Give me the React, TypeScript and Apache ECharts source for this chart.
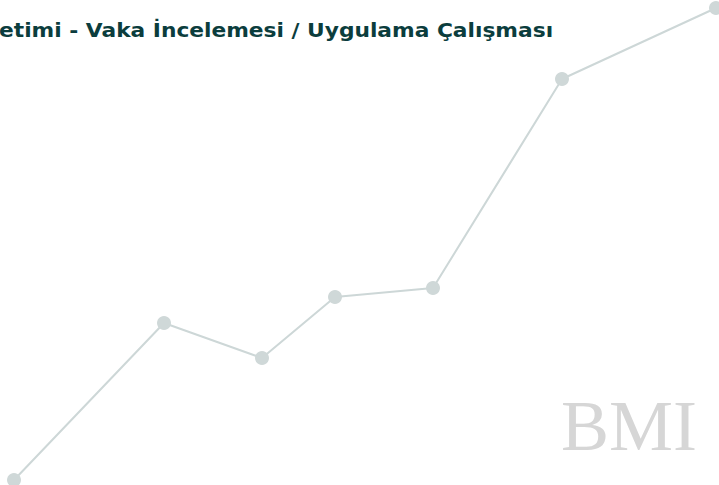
import React, { useEffect, useRef } from "react";
import * as echarts from "echarts";

const titleText = "etimi - Vaka İncelemesi / Uygulama Çalışması";
const watermark = "BMI";
const xValues = [0, 150, 248, 321, 419, 548, 702];
const yValues = [0, 157, 122, 183, 192, 401, 472];

export default function App() {
  const ref = useRef<HTMLDivElement>(null);
  useEffect(() => {
    if (!ref.current) return;
    const chart = echarts.init(ref.current, null, { renderer: "svg" });
    chart.setOption({
      animation: false,
      backgroundColor: "#ffffff",
      grid: { left: 14, right: 3, top: 8, bottom: 5 },
      xAxis: { type: "value", min: 0, max: 702, show: false },
      yAxis: { type: "value", min: 0, max: 472, show: false },
      graphic: [
        {
          type: "text",
          x: -1,
          y: 21,
          scaleX: 1.145,
          z: 10,
          style: {
            text: titleText,
            x: 0,
            y: 0,
            verticalAlign: "top",
            fontSize: 19,
            fontWeight: "bold",
            fontFamily: "'DejaVu Sans', sans-serif",
            fill: "#0b3d3d",
          },
        },
        {
          type: "text",
          left: 561,
          top: 390,
          z: 0,
          style: {
            text: watermark,
            fontSize: 72,
            fontFamily: "'Liberation Serif', 'DejaVu Serif', serif",
            fill: "#d6d6d6",
          },
        },
      ],
      series: [
        {
          type: "line",
          data: xValues.map((x, i) => [x, yValues[i]]),
          symbol: "circle",
          symbolSize: 14,
          showSymbol: true,
          lineStyle: { color: "#cdd7d7", width: 2 },
          itemStyle: { color: "#cfd8d8" },
          clip: false,
          z: 5,
        },
      ],
    });
    return () => chart.dispose();
  }, []);
  return <div ref={ref} style={{ position: "fixed", left: 0, top: 0, width: 719, height: 485 }} />;
}
